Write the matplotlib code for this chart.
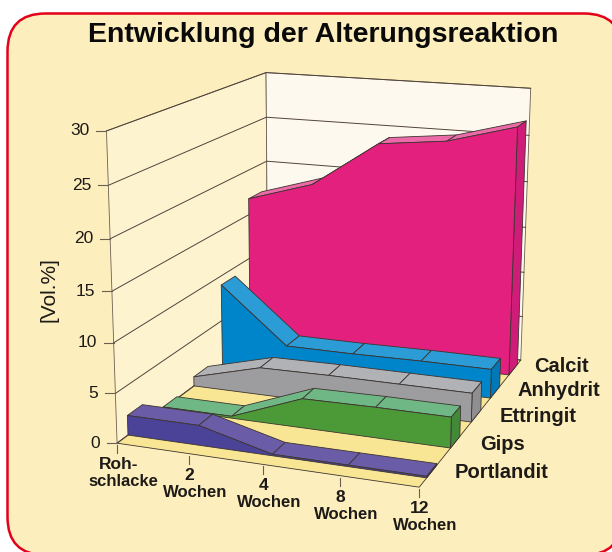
import numpy as np
import matplotlib
matplotlib.use("Agg")
import matplotlib.pyplot as plt
from matplotlib.patches import FancyBboxPatch, Polygon

# data (vol.%)
time_labels = ["Roh-\nschlacke", "2\nWochen", "4\nWochen", "8\nWochen", "12\nWochen"]
series_names = ["Portlandit", "Gips", "Ettringit", "Anhydrit", "Calcit"]
portlandit = [2.0, 2.0, 0.15, 0.15, 0.15]
gips = [0.2, 0.2, 3.0, 3.1, 3.1]
ettringit = [1.0, 2.9, 3.0, 3.0, 3.0]
anhydrit = [9.0, 3.0, 3.0, 3.1, 3.1]
calcit = [16.8, 19.0, 24.0, 24.8, 26.8]
z_ticks = [0, 5, 10, 15, 20, 25, 30]

# (top, front, side) colours and depth range of each ribbon on the floor
styles = {
    "Portlandit": ("#6a5ca6", "#4b4397", "#4b4397", 0.06, 0.145),
    "Gips": ("#6fb885", "#4c9a37", "#43893a", 0.265, 0.35),
    "Ettringit": ("#b1b2b6", "#9d9c9f", "#8f8e91", 0.46, 0.555),
    "Anhydrit": ("#2b9cd6", "#0085ca", "#0078b8", 0.655, 0.755),
    "Calcit": ("#ec6aa8", "#e4207f", "#cf1c78", 0.86, 0.96),
}
values = {"Portlandit": portlandit, "Gips": gips, "Ettringit": ettringit,
          "Anhydrit": anhydrit, "Calcit": calcit}

# camera: fit a projection from the box corners seen in the picture
world = np.array([[0, 0, 0], [4, 0, 0], [4, 1, 0], [0, 1, 0], [0, 0, 30], [0, 1, 30], [4, 1, 30]], float)
pixel = np.array([[117, 443], [419.3, 487.3], [520.7, 360], [268, 331],
                  [106.5, 131], [266, 72.5], [530.7, 88.3]], float)
rows = []
for (X, Y, Z), (u, v) in zip(world, pixel):
    rows.append([X, Y, Z, 1, 0, 0, 0, 0, -u * X, -u * Y, -u * Z, -u])
    rows.append([0, 0, 0, 0, X, Y, Z, 1, -v * X, -v * Y, -v * Z, -v])
P = np.linalg.svd(np.array(rows))[2][-1].reshape(3, 4)


def project(x, y, z):
    h = P @ np.array([x, y, z, 1.0])
    return h[0] / h[2], h[1] / h[2]


plt.rcParams["font.family"] = ["Liberation Sans", "DejaVu Sans"]
fig = plt.figure(figsize=(6.12, 5.52), dpi=100)
ax = fig.add_axes([0, 0, 1, 1])
ax.set_xlim(0, 612)
ax.set_ylim(552, 0)
ax.axis("off")

ax.add_patch(FancyBboxPatch((7.5, 13.5), 614.5, 541.5, boxstyle="round,pad=0,rounding_size=38",
                            fc="#fdefbd", ec="#e2001a", lw=1.8, zorder=0))

edge = "#3c3430"
text_c = "#1d1a18"


def face(points, color, lw=0.6, ec=edge, zorder=2):
    ax.add_patch(Polygon([project(*p) for p in points], closed=True, fc=color, ec=ec,
                         lw=lw, joinstyle="round", zorder=zorder))


# walls and floor
face([(0, 0, 0), (0, 1, 0), (0, 1, 30), (0, 0, 30)], "#fef3cf", ec="#6b5f52", zorder=1)
face([(0, 1, 0), (4, 1, 0), (4, 1, 30), (0, 1, 30)], "#fef9ee", ec="#6b5f52", zorder=1)
face([(0, 0, 0), (4, 0, 0), (4, 1, 0), (0, 1, 0)], "#f8e694", zorder=1)

for z in z_ticks:
    a, b, c = project(0, 0, z), project(0, 1, z), project(4, 1, z)
    ax.plot([a[0], b[0], c[0]], [a[1], b[1], c[1]], color="#4f443a", lw=0.7, zorder=1.5)
    ax.plot([a[0] - 10, a[0]], [a[1], a[1]], color="#6b5f52", lw=0.8, zorder=1.5)
    ax.text(a[0] - 17, a[1], str(z), ha="right", va="center", fontsize=12.5, color=text_c)

# ribbons, back to front
for name in series_names[::-1]:
    top_c, front_c, side_c, y0, y1 = styles[name]
    v = values[name]
    for i in range(4):
        face([(i, y0, v[i]), (i + 1, y0, v[i + 1]), (i + 1, y1, v[i + 1]), (i, y1, v[i])], top_c)
    face([(4, y0, 0), (4, y1, 0), (4, y1, v[4]), (4, y0, v[4])], side_c)
    front = [(i, y0, v[i]) for i in range(5)] + [(4, y0, 0), (0, y0, 0)]
    face(front, front_c)

# x axis
for i, lab in enumerate(time_labels):
    px, py = project(i, 0, 0)
    ax.plot([px, px], [py + 2, py + 10], color="#6b5f52", lw=0.8, zorder=1.5)
    first, second = lab.split("\n")
    ax.text(px + (2 if i == 0 else 0), py + 14, first, ha="center", va="top", fontsize=12.5,
            fontweight="bold", color=text_c)
    ax.text(px + 6, py + 31, second, ha="center", va="top", fontsize=12,
            fontweight="bold", color=text_c)

# series labels
label_pos = {"Portlandit": (455, 473), "Gips": (480, 445), "Ettringit": (500, 417),
             "Anhydrit": (518, 391), "Calcit": (534, 367)}
for name in series_names:
    ax.text(*label_pos[name], name, ha="left", va="center", fontsize=14.5, fontweight="bold", color=text_c)

ax.text(49, 290, "[Vol.%]", rotation=90, ha="center", va="center", fontsize=15, color=text_c)
ax.text(323, 35, "Entwicklung der Alterungsreaktion", ha="center", va="center", fontsize=20.5,
        fontweight="bold", color="#0a0a0a")

fig.savefig("out.png", dpi=100)
